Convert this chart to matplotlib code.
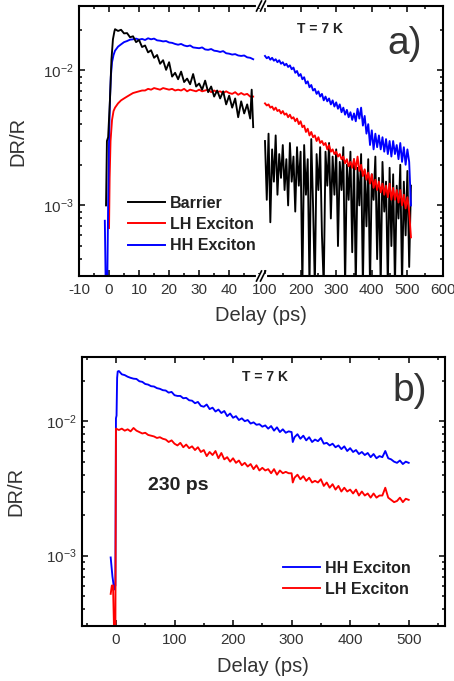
"""Two-panel DR/R transients (broken delay axis on top, linear delay below)."""
import matplotlib
matplotlib.use("Agg")
import matplotlib.pyplot as plt
from matplotlib.lines import Line2D
from matplotlib.ticker import LogLocator, MultipleLocator, NullFormatter

SCALE = 1e-3  # all DR/R values below are given in units of 1e-3

# ---- panel a, short-delay part of the broken axis (-10 .. 50 ps) ----
a_bar_t1 = [-1.0, -0.7, -0.3, 0.3, 0.8, 1.3, 1.8, 2, 3, 4, 5, 6, 7, 8, 9, 10,
            11, 12, 13, 14, 15, 16, 17, 18, 19, 20, 21, 22, 23, 24, 25, 26, 27,
            28, 29, 30, 31, 32, 33, 34, 35, 36, 37, 38, 39, 40, 41, 42, 43, 44,
            45, 46, 47, 47.5, 48]
a_bar_v1 = [1.0, 3.0, 3.2, 6.0, 12, 17, 19.5, 20.2, 19.6, 20.0, 18.8, 18.9,
            17.6, 17.9, 16.2, 16.8, 14.9, 15.3, 13.6, 14.1, 12.4, 13.0, 11.2,
            11.9, 10.1, 11.5, 9.0, 9.6, 8.6, 9.8, 8.2, 8.7, 7.9, 9.4, 7.6, 8.0,
            7.2, 8.4, 6.9, 7.6, 6.4, 7.1, 6.2, 7.0, 5.6, 6.5, 5.3, 6.2, 4.5,
            5.9, 4.8, 5.6, 4.4, 7.2, 3.8]

a_lh_t1 = [0.0, 0.2, 0.5, 1.0, 1.5, 2, 3, 4, 5, 6, 7, 8, 9, 10, 11, 12, 13,
           14, 15, 16, 17, 18, 19, 20, 21, 22, 23, 24, 25, 26, 27, 28, 29, 30,
           31, 32, 33, 34, 35, 36, 37, 38, 39, 40, 41, 42, 43, 44, 45, 46, 47,
           48]
a_lh_v1 = [0.68, 1.6, 3.0, 4.3, 5.0, 5.3, 5.7, 6.0, 6.2, 6.4, 6.6, 6.8, 6.9,
           7.0, 7.1, 7.1, 7.3, 7.2, 7.4, 7.3, 7.2, 7.4, 7.3, 7.2, 7.3, 7.1,
           7.2, 7.1, 7.3, 7.0, 7.2, 7.1, 7.0, 7.2, 7.0, 7.1, 7.2, 6.9, 7.1,
           6.9, 7.0, 6.8, 7.0, 6.8, 6.7, 6.9, 6.6, 6.8, 6.6, 6.7, 6.4, 6.4]

a_hh_t1 = [-1.4, -1.1, -0.6, -0.3, 0.0, 0.3, 0.6, 1.0, 1.5, 2, 3, 4, 5, 6, 7,
           8, 9, 10, 11, 12, 13, 14, 15, 16, 17, 18, 19, 20, 21, 22, 23, 24,
           25, 26, 27, 28, 29, 30, 31, 32, 33, 34, 35, 36, 37, 38, 39, 40, 41,
           42, 43, 44, 45, 46, 47, 48]
a_hh_v1 = [0.77, 0.25, 0.25, 1.0, 3.0, 6.0, 9.0, 11.5, 13.0, 14.0, 15.0, 15.6,
           16.2, 16.5, 16.9, 17.0, 17.2, 16.9, 17.1, 16.8, 17.3, 17.0, 17.2,
           16.7, 16.6, 16.4, 16.5, 16.1, 16.0, 15.7, 15.5, 15.7, 15.3, 15.1,
           15.3, 14.8, 14.7, 14.6, 14.8, 14.3, 14.2, 14.4, 14.0, 13.9, 13.7,
           13.9, 13.4, 13.3, 13.1, 13.2, 12.9, 12.8, 12.9, 12.5, 12.4, 12.1]

# ---- panel a, long-delay part of the broken axis (100 .. 600 ps) ----
a_t2 = [100, 105, 110, 115, 120, 125, 130, 135, 140, 145, 150, 155, 160, 165,
        170, 175, 180, 185, 190, 195, 200, 205, 210, 215, 220, 225, 230, 235,
        240, 245, 250, 255, 260, 265, 270, 275, 280, 285, 290, 295, 300, 305,
        310, 315, 320, 325, 330, 335, 340, 345, 350, 355, 360, 365, 370, 375,
        380, 385, 390, 395, 400, 405, 410, 415, 420, 425, 430, 435, 440, 445,
        450, 455, 460, 465, 470, 475, 480, 485, 490, 495, 500, 505, 510]
a_hh_v2 = [12.8, 12.3, 12.6, 12.0, 12.4, 11.8, 12.1, 11.5, 11.9, 11.2, 11.5,
           10.9, 11.2, 10.6, 10.9, 10.2, 10.5, 9.6, 9.9, 9.1, 9.4, 8.6, 8.9,
           8.0, 8.3, 7.5, 7.8, 7.1, 7.3, 6.7, 7.0, 6.4, 6.7, 6.0, 6.4, 5.9,
           6.2, 5.6, 6.0, 5.4, 5.8, 5.2, 5.6, 4.9, 5.3, 4.7, 5.1, 4.5, 4.9,
           4.3, 4.8, 4.2, 5.2, 4.4, 5.3, 3.9, 4.6, 3.4, 4.0, 2.8, 3.6, 2.6,
           3.4, 2.7, 3.3, 2.6, 3.2, 2.5, 3.1, 2.4, 3.0, 2.3, 3.0, 2.4, 2.8,
           2.2, 2.9, 2.1, 2.7, 2.0, 2.6, 2.1, 1.0]
a_lh_v2 = [5.7, 5.5, 5.6, 5.3, 5.4, 5.1, 5.3, 5.0, 5.1, 4.8, 5.0, 4.7, 4.8,
           4.5, 4.7, 4.4, 4.5, 4.2, 4.4, 4.0, 4.2, 3.8, 3.9, 3.5, 3.7, 3.3,
           3.5, 3.2, 3.3, 3.0, 3.2, 2.9, 3.0, 2.8, 2.9, 2.6, 2.8, 2.5, 2.6,
           2.4, 2.5, 2.3, 2.4, 2.2, 2.3, 2.05, 2.2, 1.95, 2.1, 1.9, 2.2, 1.85,
           2.3, 1.8, 2.0, 1.65, 1.85, 1.55, 1.75, 1.45, 1.7, 1.35, 1.55, 1.3,
           1.5, 1.25, 1.45, 1.2, 1.4, 1.15, 1.45, 1.1, 1.35, 1.1, 1.3, 1.05,
           1.3, 1.0, 1.2, 0.95, 1.15, 0.9, 0.58]
a_bar_v2 = [3.0, 1.1, 3.4, 0.75, 2.6, 1.5, 3.3, 1.2, 2.4, 1.6, 2.8, 1.3, 2.2,
            1.0, 2.9, 1.5, 2.3, 0.9, 2.7, 1.4, 2.5, 0.25, 2.8, 1.2, 2.2, 0.25,
            3.1, 1.0, 0.25, 2.4, 1.3, 2.7, 0.6, 0.25, 2.5, 1.4, 2.9, 0.8, 2.3,
            1.2, 2.6, 0.5, 2.1, 1.3, 2.7, 0.25, 2.0, 1.1, 2.5, 0.45, 2.2, 0.25,
            1.9, 1.0, 2.4, 0.25, 1.8, 0.7, 2.2, 0.25, 1.7, 1.1, 2.3, 0.4, 1.6,
            0.25, 2.1, 0.9, 1.5, 0.25, 1.9, 0.5, 1.7, 0.25, 1.4, 0.8, 2.0, 0.25,
            1.5, 0.6, 1.8, 0.35, 1.4]

# ---- panel b ----
b_hh_t = [-9, -6, -3, -1, 0, 1, 2, 3, 5, 10, 15, 20, 25, 30, 35, 40, 45, 50,
          55, 60, 65, 70, 75, 80, 85, 90, 95, 100, 105, 110, 115, 120, 125,
          130, 135, 140, 145, 150, 155, 160, 165, 170, 175, 180, 185, 190, 195,
          200, 205, 210, 215, 220, 225, 230, 235, 240, 245, 250, 255, 260, 265,
          270, 275, 280, 285, 290, 295, 300, 302, 305, 310, 315, 320, 325, 330,
          335, 340, 345, 350, 355, 360, 365, 370, 375, 380, 385, 390, 395, 400,
          405, 410, 415, 420, 425, 430, 435, 440, 445, 450, 455, 460, 465, 470,
          475, 480, 485, 490, 495, 500]
b_hh_v = [0.97, 0.7, 0.56, 0.6, 10.5, 11.0, 21.0, 23.4, 23.6, 22.3, 22.0,
          21.4, 21.0, 20.7, 20.6, 19.8, 19.6, 18.9, 18.7, 18.2, 18.1, 17.6,
          17.4, 17.0, 16.9, 16.3, 16.5, 15.6, 15.4, 15.4, 14.8, 14.9, 14.3,
          14.2, 13.6, 13.9, 13.0, 12.8, 13.3, 12.3, 12.6, 11.8, 12.2, 11.5,
          11.9, 10.9, 11.4, 10.6, 10.9, 10.2, 10.5, 10.0, 10.2, 9.6, 9.8, 9.4,
          9.5, 9.1, 9.3, 8.8, 9.2, 8.5, 9.0, 8.3, 8.7, 8.2, 8.4, 8.3, 7.0, 7.6,
          8.0, 7.4, 7.8, 7.2, 7.6, 7.0, 7.3, 7.1, 7.5, 6.8, 6.9, 6.6, 6.8, 6.4,
          6.6, 6.2, 6.5, 6.0, 6.3, 5.9, 6.1, 5.7, 5.9, 5.6, 5.8, 5.4, 5.7, 5.3,
          5.5, 5.4, 6.0, 5.3, 5.2, 5.0, 4.9, 5.1, 4.8, 5.0, 4.9]

b_lh_t = [-9, -7, -5, -3, -1, 0, 5, 10, 15, 20, 25, 30, 35, 40, 45, 50, 55,
          60, 65, 70, 75, 80, 85, 90, 95, 100, 105, 110, 115, 120, 125, 130,
          135, 140, 145, 150, 155, 160, 165, 170, 175, 180, 185, 190, 195, 200,
          205, 210, 215, 220, 225, 230, 235, 240, 245, 250, 255, 260, 265, 270,
          275, 280, 285, 290, 295, 300, 302, 305, 310, 315, 320, 325, 330, 335,
          340, 345, 350, 355, 360, 365, 370, 375, 380, 385, 390, 395, 400, 405,
          410, 415, 420, 425, 430, 435, 440, 445, 450, 455, 460, 465, 470, 475,
          480, 485, 490, 495, 500]
b_lh_v = [0.52, 0.6, 0.6, 0.25, 0.25, 8.8, 8.6, 8.8, 8.5, 8.7, 8.4, 8.9, 8.5,
          8.3, 8.1, 8.2, 7.9, 7.8, 7.7, 7.5, 7.6, 7.4, 7.3, 7.0, 7.2, 6.8, 6.6,
          6.9, 6.4, 6.7, 6.3, 6.5, 6.1, 6.4, 5.9, 6.1, 5.5, 5.9, 5.6, 6.0, 5.3,
          5.8, 5.2, 5.4, 5.0, 5.3, 4.9, 5.1, 4.7, 4.9, 4.6, 4.8, 4.4, 4.7, 4.3,
          4.5, 4.3, 4.4, 4.1, 4.4, 4.0, 4.3, 4.1, 4.2, 4.1, 4.1, 3.5, 3.8, 4.0,
          3.7, 3.9, 3.6, 3.8, 3.5, 3.6, 3.5, 3.7, 3.3, 3.5, 3.2, 3.4, 3.1, 3.3,
          3.0, 3.2, 3.0, 3.1, 2.9, 3.1, 2.8, 3.0, 2.8, 2.9, 2.7, 2.9, 2.7, 2.8,
          2.8, 3.2, 2.7, 2.6, 2.5, 2.55, 2.7, 2.5, 2.65, 2.6]

plt.rcParams["font.family"] = ["Liberation Sans", "DejaVu Sans"]
plt.rcParams["mathtext.fontset"] = "custom"
plt.rcParams["mathtext.rm"] = "Liberation Sans"
plt.rcParams["mathtext.it"] = "Liberation Sans:italic"
plt.rcParams["mathtext.bf"] = "Liberation Sans:bold"
plt.rcParams["axes.unicode_minus"] = False

W, H = 454, 681
TXT = "#222222"
LBL = "#333333"


def scaled(vals):
    return [v * SCALE for v in vals]


def style(ax, left=True, right=True):
    ax.set_yscale("log")
    ax.set_ylim(3e-4, 3e-2)
    ax.yaxis.set_major_locator(LogLocator(base=10))
    ax.yaxis.set_minor_locator(LogLocator(base=10, subs=range(2, 10)))
    ax.yaxis.set_minor_formatter(NullFormatter())
    for s in ax.spines.values():
        s.set_linewidth(1.5)
    ax.spines["left"].set_visible(left)
    ax.spines["right"].set_visible(right)
    ax.tick_params(which="both", direction="in", top=True, bottom=True,
                   left=left, right=right, width=1.1, labelsize=11,
                   labelcolor=LBL)
    ax.tick_params(which="major", length=4.5)
    ax.tick_params(which="minor", length=2.5)
    ax.tick_params(axis="x", pad=5)
    ax.tick_params(axis="y", pad=4)
    if not left:
        ax.tick_params(axis="y", labelleft=False)


def px_axes(fig, x0, y0, x1, y1):
    return fig.add_axes([x0 / W, 1 - y1 / H, (x1 - x0) / W, (y1 - y0) / H])


legend_kw = dict(loc="upper left", bbox_transform=None, frameon=False,
                 borderpad=0, borderaxespad=0, handlelength=2.3,
                 handletextpad=0.3, labelspacing=0.38,
                 prop={"weight": "bold", "size": 11.5}, labelcolor=TXT)

fig = plt.figure(figsize=(W / 100, H / 100), dpi=100)
legend_kw["bbox_transform"] = fig.transFigure

# ---------- panel a ----------
axl = px_axes(fig, 79, 6, 261, 276)
axr = px_axes(fig, 261, 6, 443, 276)
style(axl, left=True, right=False)
style(axr, left=False, right=True)
axl.set_xlim(-10, 50.6)
axr.set_xlim(88.8, 600)
axl.xaxis.set_minor_locator(MultipleLocator(5))
axl.set_xticks([-10, 0, 10, 20, 30, 40])
axr.xaxis.set_minor_locator(MultipleLocator(50))
axr.set_xticks([100, 200, 300, 400, 500, 600])

lw = 1.35
axl.plot(a_bar_t1, scaled(a_bar_v1), color="black", lw=lw, zorder=3)
axl.plot(a_lh_t1, scaled(a_lh_v1), color="#ff0000", lw=lw, zorder=2)
axl.plot(a_hh_t1, scaled(a_hh_v1), color="#0000ff", lw=lw, zorder=2)
axr.plot(a_t2, scaled(a_bar_v2), color="black", lw=lw, zorder=1)
axr.plot(a_t2, scaled(a_lh_v2), color="#ff0000", lw=lw, zorder=2)
axr.plot(a_t2, scaled(a_hh_v2), color="#0000ff", lw=lw, zorder=3)

handles = [Line2D([], [], color=c, lw=1.4) for c in ("black", "#ff0000", "#0000ff")]
axl.legend(handles, ["Barrier", "LH Exciton", "HH Exciton"],
           bbox_to_anchor=(128 / W, 1 - 196 / H), **legend_kw)

fig.text(320 / W, 1 - 29 / H, "T = 7 K", ha="center", va="center",
         fontsize=10, fontweight="bold", color=TXT)
fig.text(405 / W, 1 - 44 / H, "a)", ha="center", va="center",
         fontsize=28, color=LBL)
fig.text(261 / W, 1 - 315 / H, "Delay (ps)", ha="center", va="center",
         fontsize=14.5, color=LBL)
fig.text(18 / W, 1 - 141 / H, "DR/R", ha="center", va="center",
         rotation=90, fontsize=14.5, color=LBL)

# break marks on the top and bottom spines
for yb in (6, 276):
    fig.add_artist(Line2D([258 / W, 265 / W], [1 - yb / H] * 2,
                          transform=fig.transFigure, color="white", lw=3,
                          zorder=10))
    for xo in (256.5, 260.5):
        fig.add_artist(Line2D([xo / W, (xo + 5) / W],
                              [1 - (yb + 5) / H, 1 - (yb - 5) / H],
                              transform=fig.transFigure, color="black",
                              lw=1.2, zorder=11))

# ---------- panel b ----------
axb = px_axes(fig, 82, 357, 445, 626)
style(axb)
axb.set_xlim(-58, 562)
axb.xaxis.set_minor_locator(MultipleLocator(50))
axb.set_xticks([0, 100, 200, 300, 400, 500])

axb.plot(b_hh_t, scaled(b_hh_v), color="#0000ff", lw=lw, label="HH Exciton")
axb.plot(b_lh_t, scaled(b_lh_v), color="#ff0000", lw=lw, label="LH Exciton")
axb.legend(bbox_to_anchor=(283 / W, 1 - 561 / H), **legend_kw)

fig.text(265 / W, 1 - 377 / H, "T = 7 K", ha="center", va="center",
         fontsize=10, fontweight="bold", color=TXT)
fig.text(410 / W, 1 - 391 / H, "b)", ha="center", va="center",
         fontsize=28, color=LBL)
fig.text(148 / W, 1 - 485 / H, "230 ps", ha="left", va="center",
         fontsize=14, fontweight="bold", color=TXT)
fig.text(263 / W, 1 - 667 / H, "Delay (ps)", ha="center", va="center",
         fontsize=14.5, color=LBL)
fig.text(16 / W, 1 - 491 / H, "DR/R", ha="center", va="center",
         rotation=90, fontsize=14.5, color=LBL)

fig.savefig("out.png", dpi=100)
